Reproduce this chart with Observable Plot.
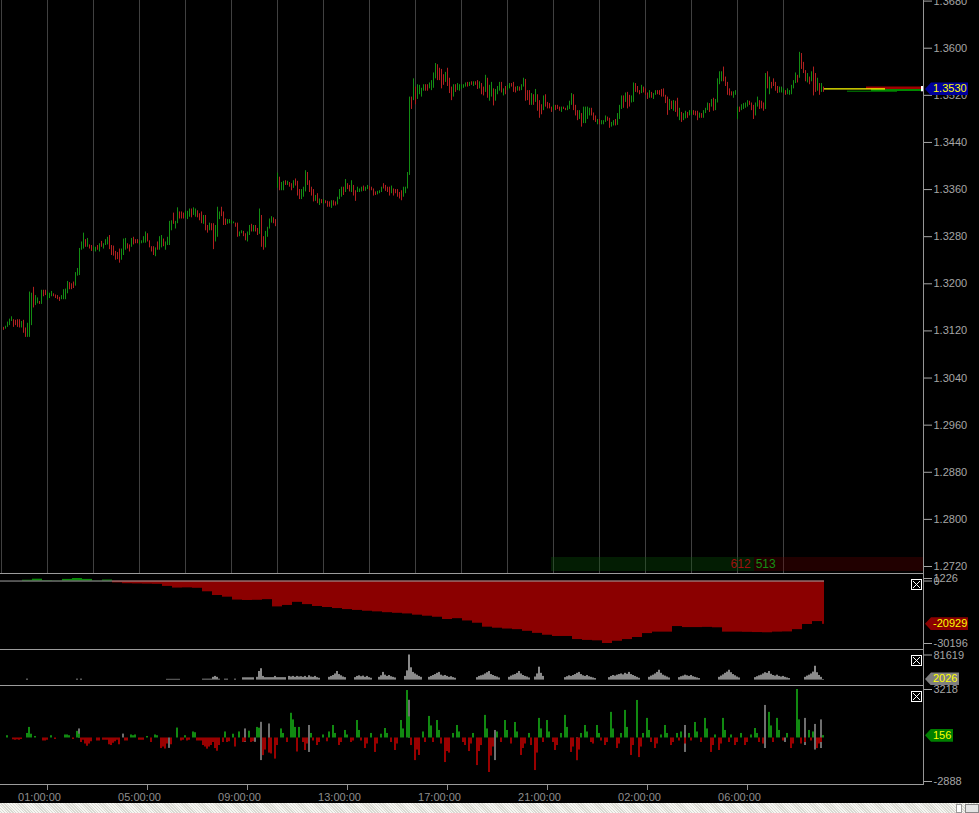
<!DOCTYPE html>
<html><head><meta charset="utf-8">
<script src="https://cdn.jsdelivr.net/npm/d3@7"></script>
<script src="https://cdn.jsdelivr.net/npm/@observablehq/plot@0.6"></script>
<style>
html,body{margin:0;padding:0;background:#000;overflow:hidden;}
#chart{position:relative;width:979px;height:813px;background:#000;font-family:"Liberation Sans",Arial,sans-serif;overflow:hidden;}
.pw{position:absolute;left:0;width:979px;}
.pw.ov svg{overflow:visible;}
.hl{position:absolute;height:1px;background:#9c9c9c;}
.tag{position:absolute;left:925px;height:13px;font:11px "Liberation Sans",Arial,sans-serif;line-height:13px;color:#ffff00;padding-left:8px;box-sizing:border-box;clip-path:polygon(0 50%,6px 0,100% 0,100% 100%,6px 100%);z-index:5;}
.cb{position:absolute;left:911px;width:11px;height:11px;z-index:5;}
</style></head><body><div id="chart"></div><script>
// ---------- price bars (one per bar index) ----------
const highs = [
1.3126,1.3128,1.3135,1.3140,1.3144,1.3139,1.3138,1.3139,1.3139,1.3136,
1.3138,1.3125,1.3133,1.3186,1.3184,1.3194,1.3180,1.3176,1.3170,1.3189,
1.3189,1.3189,1.3186,1.3184,1.3187,1.3183,1.3181,1.3180,1.3177,1.3180,
1.3190,1.3191,1.3204,1.3202,1.3200,1.3203,1.3219,1.3226,1.3260,1.3271,
1.3286,1.3275,1.3277,1.3266,1.3265,1.3263,1.3262,1.3265,1.3268,1.3272,
1.3268,1.3275,1.3279,1.3282,1.3265,1.3264,1.3255,1.3253,1.3259,1.3259,
1.3276,1.3277,1.3268,1.3266,1.3277,1.3279,1.3275,1.3275,1.3273,1.3273,
1.3280,1.3288,1.3285,1.3273,1.3263,1.3263,1.3261,1.3271,1.3280,1.3282,
1.3276,1.3271,1.3279,1.3306,1.3307,1.3320,1.3306,1.3329,1.3322,1.3322,
1.3320,1.3323,1.3323,1.3327,1.3327,1.3329,1.3327,1.3324,1.3319,1.3322,
1.3316,1.3316,1.3299,1.3303,1.3302,1.3302,1.3299,1.3330,1.3322,1.3330,
1.3322,1.3310,1.3309,1.3309,1.3307,1.3305,1.3303,1.3303,1.3288,1.3290,
1.3289,1.3285,1.3288,1.3299,1.3301,1.3299,1.3299,1.3294,1.3327,1.3316,
1.3280,1.3289,1.3296,1.3310,1.3314,1.3312,1.3309,1.3388,1.3381,1.3372,
1.3374,1.3375,1.3374,1.3372,1.3370,1.3375,1.3378,1.3374,1.3360,1.3360,
1.3364,1.3392,1.3389,1.3375,1.3364,1.3360,1.3350,1.3353,1.3344,1.3343,
1.3343,1.3341,1.3340,1.3339,1.3341,1.3341,1.3339,1.3347,1.3360,1.3364,
1.3364,1.3377,1.3370,1.3367,1.3375,1.3367,1.3358,1.3364,1.3361,1.3364,
1.3366,1.3364,1.3367,1.3365,1.3364,1.3361,1.3356,1.3357,1.3358,1.3364,
1.3370,1.3367,1.3364,1.3364,1.3366,1.3361,1.3360,1.3360,1.3355,1.3358,
1.3364,1.3364,1.3389,1.3517,1.3517,1.3548,1.3534,1.3538,1.3537,1.3532,
1.3538,1.3538,1.3538,1.3541,1.3545,1.3558,1.3574,1.3572,1.3566,1.3564,
1.3555,1.3559,1.3566,1.3549,1.3534,1.3538,1.3538,1.3540,1.3538,1.3538,
1.3538,1.3541,1.3542,1.3542,1.3543,1.3543,1.3543,1.3545,1.3543,1.3540,
1.3534,1.3554,1.3549,1.3537,1.3542,1.3531,1.3530,1.3535,1.3542,1.3542,
1.3531,1.3535,1.3537,1.3540,1.3540,1.3542,1.3534,1.3535,1.3534,1.3538,
1.3549,1.3547,1.3528,1.3528,1.3523,1.3521,1.3530,1.3521,1.3511,1.3504,
1.3519,1.3521,1.3508,1.3506,1.3500,1.3503,1.3503,1.3503,1.3500,1.3500,
1.3500,1.3498,1.3502,1.3510,1.3523,1.3521,1.3503,1.3494,1.3494,1.3489,
1.3500,1.3500,1.3500,1.3498,1.3498,1.3490,1.3485,1.3479,1.3479,1.3477,
1.3477,1.3485,1.3483,1.3481,1.3474,1.3477,1.3479,1.3489,1.3503,1.3519,
1.3519,1.3524,1.3525,1.3520,1.3519,1.3541,1.3540,1.3535,1.3528,1.3537,
1.3534,1.3531,1.3524,1.3528,1.3525,1.3523,1.3528,1.3528,1.3528,1.3530,
1.3531,1.3520,1.3517,1.3513,1.3510,1.3511,1.3510,1.3515,1.3498,1.3491,
1.3489,1.3493,1.3491,1.3494,1.3494,1.3494,1.3493,1.3493,1.3490,1.3489,
1.3494,1.3498,1.3507,1.3506,1.3513,1.3515,1.3513,1.3548,1.3560,1.3560,
1.3568,1.3551,1.3542,1.3531,1.3526,1.3526,1.3528,1.3500,1.3500,1.3504,
1.3506,1.3507,1.3511,1.3510,1.3507,1.3503,1.3507,1.3517,1.3511,1.3510,
1.3507,1.3557,1.3560,1.3551,1.3542,1.3548,1.3542,1.3535,1.3534,1.3534,
1.3531,1.3528,1.3531,1.3528,1.3537,1.3545,1.3558,1.3554,1.3593,1.3591,
1.3576,1.3562,1.3557,1.3551,1.3560,1.3568,1.3557,1.3549,1.3540,1.3540,1.3534
];
const lows = [
1.3121,1.3123,1.3126,1.3129,1.3136,1.3126,1.3129,1.3126,1.3125,1.3125,
1.3116,1.3109,1.3109,1.3109,1.3129,1.3159,1.3163,1.3166,1.3165,1.3165,
1.3178,1.3180,1.3172,1.3175,1.3178,1.3178,1.3175,1.3173,1.3170,1.3173,
1.3173,1.3173,1.3183,1.3190,1.3190,1.3192,1.3196,1.3213,1.3214,1.3257,
1.3259,1.3262,1.3262,1.3259,1.3255,1.3255,1.3254,1.3257,1.3254,1.3262,
1.3259,1.3265,1.3266,1.3258,1.3248,1.3247,1.3240,1.3241,1.3235,1.3240,
1.3248,1.3257,1.3259,1.3254,1.3262,1.3266,1.3268,1.3268,1.3266,1.3268,
1.3269,1.3269,1.3271,1.3261,1.3254,1.3248,1.3246,1.3257,1.3257,1.3261,
1.3263,1.3257,1.3265,1.3265,1.3290,1.3301,1.3293,1.3302,1.3310,1.3310,
1.3310,1.3311,1.3309,1.3313,1.3312,1.3316,1.3313,1.3312,1.3307,1.3302,
1.3301,1.3290,1.3286,1.3290,1.3290,1.3258,1.3271,1.3279,1.3309,1.3314,
1.3299,1.3299,1.3301,1.3302,1.3301,1.3302,1.3296,1.3279,1.3280,1.3285,
1.3280,1.3273,1.3271,1.3282,1.3288,1.3288,1.3288,1.3282,1.3284,1.3262,
1.3257,1.3261,1.3279,1.3293,1.3303,1.3302,1.3297,1.3362,1.3358,1.3358,
1.3358,1.3367,1.3367,1.3364,1.3358,1.3362,1.3366,1.3349,1.3343,1.3343,
1.3347,1.3356,1.3367,1.3355,1.3349,1.3339,1.3340,1.3336,1.3333,1.3336,
1.3335,1.3336,1.3330,1.3330,1.3328,1.3332,1.3332,1.3334,1.3343,1.3347,
1.3350,1.3355,1.3360,1.3356,1.3355,1.3349,1.3340,1.3355,1.3355,1.3356,
1.3357,1.3357,1.3360,1.3358,1.3358,1.3349,1.3350,1.3351,1.3353,1.3355,
1.3361,1.3357,1.3355,1.3349,1.3353,1.3349,1.3353,1.3347,1.3344,1.3341,
1.3347,1.3353,1.3361,1.3384,1.3496,1.3511,1.3504,1.3513,1.3521,1.3517,
1.3527,1.3527,1.3527,1.3531,1.3528,1.3532,1.3548,1.3545,1.3545,1.3531,
1.3537,1.3542,1.3535,1.3523,1.3511,1.3517,1.3525,1.3528,1.3527,1.3530,
1.3532,1.3534,1.3534,1.3535,1.3537,1.3535,1.3537,1.3530,1.3531,1.3521,
1.3519,1.3525,1.3515,1.3510,1.3517,1.3502,1.3510,1.3521,1.3527,1.3524,
1.3519,1.3521,1.3528,1.3531,1.3534,1.3525,1.3524,1.3527,1.3527,1.3528,
1.3534,1.3510,1.3511,1.3503,1.3503,1.3503,1.3508,1.3493,1.3481,1.3487,
1.3494,1.3500,1.3497,1.3497,1.3491,1.3494,1.3494,1.3496,1.3493,1.3491,
1.3496,1.3494,1.3494,1.3496,1.3503,1.3494,1.3485,1.3477,1.3479,1.3466,
1.3472,1.3472,1.3479,1.3485,1.3485,1.3477,1.3474,1.3470,1.3470,1.3470,
1.3470,1.3474,1.3476,1.3464,1.3466,1.3468,1.3468,1.3469,1.3479,1.3496,
1.3498,1.3508,1.3497,1.3500,1.3507,1.3508,1.3525,1.3524,1.3521,1.3523,
1.3524,1.3520,1.3513,1.3515,1.3515,1.3513,1.3520,1.3521,1.3520,1.3517,
1.3517,1.3506,1.3486,1.3494,1.3496,1.3493,1.3491,1.3483,1.3477,1.3474,
1.3477,1.3480,1.3481,1.3485,1.3486,1.3486,1.3485,1.3477,1.3481,1.3481,
1.3481,1.3489,1.3494,1.3491,1.3500,1.3493,1.3494,1.3507,1.3538,1.3543,
1.3543,1.3535,1.3520,1.3519,1.3519,1.3515,1.3520,1.3479,1.3491,1.3494,
1.3496,1.3498,1.3500,1.3503,1.3494,1.3479,1.3485,1.3500,1.3496,1.3497,
1.3493,1.3496,1.3531,1.3521,1.3531,1.3535,1.3527,1.3523,1.3524,1.3524,
1.3523,1.3520,1.3521,1.3520,1.3521,1.3531,1.3540,1.3541,1.3549,1.3564,
1.3557,1.3543,1.3541,1.3538,1.3543,1.3519,1.3525,1.3527,1.3520,1.3525,1.3525
];
// +1 = up bar (green), -1 = down bar (red)
const barDir = [
-1,1,1,1,1,-1,-1,-1,-1,1, -1,-1,1,1,1,-1,1,1,-1,1, -1,-1,1,1,1,-1,-1,-1,-1,1, 1,1,1,-1,-1,-1,1,1,1,1,
1,-1,1,-1,-1,1,1,-1,1,-1, 1,1,1,-1,-1,-1,-1,-1,-1,1, 1,1,-1,-1,1,-1,-1,-1,1,1, 1,1,-1,-1,-1,-1,1,-1,1,1,
-1,1,1,1,1,-1,1,1,-1,-1, -1,1,1,1,-1,1,1,-1,-1,-1, 1,-1,-1,1,-1,-1,1,1,1,-1, -1,-1,1,1,1,1,-1,-1,1,1,
-1,-1,1,1,-1,1,-1,-1,1,-1, -1,1,1,1,1,-1,-1,1,-1,1, 1,-1,1,-1,-1,1,-1,-1,-1,1, 1,1,-1,-1,-1,-1,1,-1,1,-1,
1,-1,-1,-1,1,-1,-1,1,1,1, -1,1,-1,-1,1,-1,-1,1,1,1, -1,1,1,-1,-1,-1,-1,1,1,1, -1,-1,-1,-1,1,-1,-1,-1,-1,-1,
1,1,1,1,-1,1,-1,1,1,1, 1,-1,-1,1,1,1,1,-1,-1,-1, -1,1,-1,-1,-1,1,-1,1,1,1, 1,1,-1,1,-1,1,-1,-1,1,-1,
-1,1,-1,1,1,-1,1,1,1,-1, 1,-1,1,1,-1,-1,-1,1,-1,1, 1,-1,-1,-1,1,-1,1,-1,-1,-1, 1,-1,-1,-1,-1,1,-1,-1,-1,1,
-1,-1,1,1,1,-1,-1,-1,1,-1, 1,1,1,1,-1,-1,-1,1,-1,1, 1,1,-1,-1,1,1,-1,1,1,1, -1,1,-1,-1,1,1,-1,-1,-1,1,
-1,-1,-1,1,-1,1,1,-1,-1,-1, -1,-1,-1,1,-1,1,-1,-1,1,-1, 1,1,-1,1,1,-1,-1,-1,1,-1, 1,1,1,-1,1,-1,1,1,1,1,
-1,-1,-1,-1,-1,1,1,1,-1,1, 1,1,1,-1,-1,-1,1,1,-1,-1, -1,1,-1,1,-1,-1,-1,-1,1,1, 1,-1,1,1,1,1,1,-1,1,-1,
-1,-1,1,-1,1,-1,-1,1,-1,1,-1
];
const priceTicks = [1.2720,1.2800,1.2880,1.2960,1.3040,1.3120,1.3200,1.3280,1.3360,1.3440,1.3520,1.3600,1.3680];
const gridIdx = [-1,22,45,68,91,114,137,160,183,206,229,252,275,298,321,344,367,390];
const xTickIdx = [22,72,122,172,222,272,322,372];
const xTickLabels = ["01:00:00","05:00:00","09:00:00","13:00:00","17:00:00","21:00:00","02:00:00","06:00:00"];
const lastPrice = 1.3530;
// working order levels: price, from bar, to bar
const orderPrices = [1.3533, 1.3529, 1.3527, 1.3531];
const orderFrom = [431.5, 434, 422, 410.5];
const orderTo = [459, 459, 447, 441];
// bid / ask counter strip
const counterSell = 612, counterBuy = 513;

// ---------- cumulative delta, one value per 5 bars ----------
const cumDelta = [0,0,400,900,200,100,800,1226,800,100,
500,-900,-1300,-1400,-1500,-1600,-2600,-3400,-3300,-3500,
-5200,-7000,-7800,-9200,-9400,-9300,-9000,-12500,-11800,-10300,
-11400,-12300,-12800,-13300,-13800,-14200,-14600,-14900,-15300,-15600,
-15900,-16500,-17000,-17500,-18600,-18200,-19300,-20400,-22300,-22800,
-23200,-23500,-24300,-25300,-26200,-26800,-26800,-28300,-28700,-28900,
-30196,-29100,-28300,-27300,-25400,-24700,-24700,-22000,-22500,-22500,
-22400,-22600,-24700,-24700,-24800,-24900,-25000,-24700,-24600,-23500,
-21000,-19600,-20929];
const cumTicks = [1226, 0, -30196];
const lastCum = -20929;

// ---------- volume (bar index, value) ----------
const volume = [[12,3000],[37,3000],[39,3000],[82,2500],[83,2500],[84,2500],[85,2500],[86,2500],[87,2500],[88,2500],
[100,3000],[101,3000],[102,3000],[103,3000],[104,3000],[105,9000],[106,12000],[107,9000],[108,3000],[111,3000],[112,3000],[116,3000],
[120,7500],[121,7500],[122,7500],[123,7500],[124,7500],[125,7500],[127,9000],[128,28000],[129,37000],[130,12000],
[131,8000],[132,8000],[133,8000],[134,8000],[135,8000],[136,12000],[137,8000],[138,8000],[139,8000],[140,8000],[141,8000],
[143,12000],[144,10000],[145,12000],[146,9000],[147,12000],[148,10000],
[149,11000],[150,9000],[151,12000],[152,8000],[153,14000],[154,10000],[155,9000],[156,12000],[157,8000],[158,6000],
[163,9000],[164,12000],[165,15000],[166,20000],[167,28000],[168,18000],[169,14000],[170,10000],[171,8000],
[176,8000],[177,12000],[178,14000],[179,11000],[180,13000],[181,9000],[182,12000],[183,8000],[184,6000],
[188,9000],[189,14000],[190,25000],[191,16000],[192,12000],[193,15000],[194,11000],[195,9000],[196,7000],
[201,12000],[202,30000],[203,81619],[204,40000],[205,25000],[206,20000],[207,16000],[208,12000],[209,9000],
[213,9000],[214,12000],[215,15000],[216,18000],[217,22000],[218,25000],[219,16000],[220,13000],[221,15000],[222,12000],[223,9000],[224,11000],[225,8000],[226,6000],
[237,8000],[238,12000],[239,14000],[240,16000],[241,20000],[242,24000],[243,28000],[244,18000],[245,15000],[246,12000],[247,10000],[248,7000],
[253,9000],[254,13000],[255,16000],[256,18000],[257,22000],[258,28000],[259,20000],[260,15000],[261,12000],[262,10000],[263,7000],
[266,10000],[267,20000],[268,42000],[269,22000],[270,12000],
[281,8000],[282,11000],[283,14000],[284,12000],[285,15000],[286,18000],[287,22000],[288,25000],[289,18000],[290,14000],[291,12000],[292,15000],[293,11000],[294,9000],[295,7000],[296,5000],
[303,8000],[304,12000],[305,15000],[306,13000],[307,16000],[308,18000],[309,20000],[310,17000],[311,22000],[312,19000],[313,25000],[314,18000],[315,15000],[316,12000],[317,9000],[318,6000],
[323,9000],[324,13000],[325,16000],[326,20000],[327,25000],[328,32000],[329,22000],[330,16000],[331,13000],[332,10000],[333,7000],
[338,8000],[339,11000],[340,13000],[341,16000],[342,14000],[343,12000],[344,15000],[345,11000],[346,9000],[347,7000],[348,5000],
[358,9000],[359,13000],[360,17000],[361,22000],[362,26000],[363,32000],[364,24000],[365,18000],[366,14000],[367,10000],[368,7000],
[376,8000],[377,11000],[378,14000],[379,16000],[380,20000],[381,24000],[382,22000],[383,28000],[384,19000],[385,15000],[386,13000],[387,16000],[388,12000],[389,10000],[390,12000],[391,9000],[392,7000],[393,5000],
[401,9000],[402,13000],[403,16000],[404,20000],[405,26000],[406,45000],[407,24000],[408,15000],[409,9000],[410,2026]];
const volTicks = [81619];
const lastVol = 2026;

// ---------- delta histogram (bar index, value) ----------
const deltaBars = [[2,150],[5,-120],[6,-150],[7,-120],[8,-150],[9,-100],[12,300],[13,700],[14,250],[16,100],[20,-200],[21,-200],[22,-150],[24,150],[26,-100],
[31,200],[32,200],[33,150],[35,-100],[37,440],[38,250],[39,-300],[40,-150],[41,-400],[42,-550],[43,-400],[44,-250],[47,-200],[48,-200],
[50,-150],[51,-150],[52,-150],[53,-450],[54,-500],[55,-350],[56,-250],[57,-150],[58,-450],[61,-200],[62,-200],[64,200],[65,150],[66,200],
[68,-150],[69,-150],[70,-150],[72,100],[74,-300],[76,200],[77,150],[79,-700],[80,-600],[81,-730],[82,-400],[84,-450],[87,660],[89,-200],[90,-150],
[91,150],[92,-200],[93,-150],[95,400],[96,350],[97,-200],[98,-200],[99,-200],[100,-500],[101,-600],[102,-740],[103,-600],[104,-500],
[105,-300],[106,-700],[107,-880],[108,-500],[110,-300],[111,400],[112,-300],[113,-250],[115,250],[116,-600],[118,400],[120,-300],[121,-250],
[123,450],[124,-300],[125,-250],[127,700],[128,650],[130,-1170],[131,-800],[133,-1000],[134,-1060],[136,-1400],[137,-500],[139,600],[140,300],
[142,-300],[144,1640],[145,1200],[146,700],[147,-930],[148,700],
[150,-300],[151,-830],[152,-400],[154,300],[155,-200],[157,-500],[158,-300],[160,200],[162,-250],[163,400],[165,830],[166,300],[168,-500],[169,-300],
[171,500],[172,200],[174,-300],[175,-200],[177,1160],[178,500],[179,-200],[181,-700],[182,-400],[184,300],[186,-960],[187,-400],[189,250],[191,630],
[192,300],[194,-300],[196,-830],[197,-400],[199,1160],[200,600],[202,3150],[203,1400],[204,-500],[206,-1500],[207,-800],[208,-1160],[210,400],
[211,-300],[213,1430],[214,800],[215,-300],[217,1160],[218,500],[219,-400],[221,-1630],[222,-900],[223,-1000],[225,300],[227,830],[228,400],
[230,-300],[231,-500],[233,-900],[234,-400],[235,300],[237,-1830],[238,-900],[239,-500],[241,1500],[242,600],[243,-2290],[244,-1200],[245,-600],
[247,400],[249,-300],[251,1160],[252,500],[254,-400],[256,1030],[257,400],[259,-1160],[260,-700],[261,-400],[263,300],[264,-500],[266,-2160],
[267,-1000],[268,1300],[269,600],[270,-300],[272,1160],[273,400],[275,-300],[276,-830],[277,-500],[279,300],[281,1500],[282,700],[284,-960],
[285,-600],[287,-1500],[288,-800],[289,300],[291,830],[292,400],[294,-300],[295,-400],[297,830],[298,300],[299,-200],[301,-500],[302,-300],
[304,1700],[305,600],[307,-700],[308,-400],[309,300],[311,1830],[312,700],[314,-1160],[315,-500],[317,2490],[318,-1300],[319,-600],[320,300],
[322,1300],[323,500],[324,-300],[326,-700],[327,-400],[329,200],[331,830],[332,300],[334,-500],[335,-300],[337,300],[338,-200],[339,400],
[341,-400],[343,300],[344,-200],[346,1030],[347,400],[349,-300],[351,1300],[352,600],[354,-960],[355,-500],[356,200],[358,-830],[359,-400],
[360,1300],[361,500],[363,-300],[364,200],[366,-500],[367,-300],[369,300],[371,-500],[372,-300],[374,200],[376,630],[377,300],[378,-300],
[380,-400],[383,1700],[384,800],[385,-300],[387,1300],[388,500],[390,-200],[392,300],[394,-700],[395,-400],[397,3218],[398,1200],[399,-400],
[401,-300],[403,500],[404,-200],[405,400],[407,-700],[408,-400],[409,-300],[410,156]];
// gray range bars (bar index, low, high)
const grayBars = [[38,0,600],[60,0,260],[83,-690,0],[121,-290,600],[126,-290,0],[129,-1500,1040],[133,-620,930],[153,-960,830],[203,0,2500],
[246,-1500,500],[287,-1500,0],[341,-960,830],[381,-700,2160],[391,-300,0],[401,-500,1300],[406,-800,900],[409,-700,1200]];
const deltaTicks = [3218, -2888];
const lastDelta = 156;

// ---------- drawing ----------
const W = 979, AX = 923;
const xOpt = {domain: [-1.5, 460], range: [0, AX], axis: null};
const FONT = '"Liberation Sans", Arial, sans-serif';
const baseStyle = {background: "transparent", color: "#a6a6a6", fontSize: "11px", fontFamily: FONT};
const GREEN = "#138c13", RED = "#b02020";
const root = document.getElementById("chart");
function put(el, top, ov) { const d = document.createElement("div"); d.className = "pw" + (ov ? " ov" : ""); d.style.top = top + "px"; d.appendChild(el); root.appendChild(d); }
const yAxis = (ticks, fmt) => Plot.axisY(ticks, {anchor: "right", tickSize: 8, tickPadding: 2, label: null, tickFormat: fmt});

const bars = highs.map((h, i) => ({i, high: h, low: lows[i], up: barDir[i] > 0}));
const orderColors = ["#a00000", "#008a00", "#008a00", "#ffff00"];
const orderWidths = [2.5, 2, 1, 1.3];
const orders = orderPrices.map((p, j) => ({price: p, from: orderFrom[j], to: orderTo[j], c: orderColors[j], w: orderWidths[j]}));

const main = Plot.plot({
  width: W, height: 573, marginLeft: 0, marginRight: W - AX, marginTop: 0, marginBottom: 0,
  style: baseStyle, x: xOpt,
  y: {domain: [1.272, 1.368], range: [566, 0.6]},
  marks: [
    Plot.ruleX(gridIdx, {x: d => d, stroke: "#404040"}),
    Plot.ruleX(bars, {x: "i", y1: "low", y2: "high", stroke: d => d.up ? GREEN : RED}),
    ...orders.map(o => Plot.ruleY([o], {y: "price", x1: "from", x2: "to", stroke: o.c, strokeWidth: o.w})),
    Plot.rect([{p: lastPrice}], {x1: 459, x2: 460, y1: d => d.p - 0.0004, y2: d => d.p + 0.0005, fill: "#ffffff"}),
    yAxis(priceTicks, d3.format(".4f"))
  ]
});
put(main, 0, false);

const cumBlocks = cumDelta.map((v, j) => ({x1: 5 * j - 0.5, x2: Math.min(5 * j + 4.5, 410.5), v}));
const p2 = Plot.plot({
  width: W, height: 75, marginLeft: 0, marginRight: W - AX, marginTop: 0, marginBottom: 0,
  style: baseStyle, x: xOpt,
  y: {domain: [-30196, 1226], range: [69, 4]},
  marks: [
    Plot.rect(cumBlocks, {x1: "x1", x2: "x2", y1: 0, y2: "v", fill: d => d.v >= 0 ? "#0a8a0a" : "#8b0000"}),
    Plot.ruleY([0], {x1: -1.5, x2: 410.5, stroke: "#a0a0a0"}),
    yAxis(cumTicks, d => String(d))
  ]
});
put(p2, 574, true);

const p3 = Plot.plot({
  width: W, height: 35, marginLeft: 0, marginRight: W - AX, marginTop: 0, marginBottom: 0,
  style: baseStyle, x: xOpt,
  y: {domain: [0, 81619], range: [29.6, 4.5]},
  marks: [
    Plot.rect(volume, {x1: d => d[0] - 0.5, x2: d => d[0] + 0.5, y1: 0, y2: d => d[1], fill: "#8a8a8a"}),
    yAxis(volTicks, d => String(d))
  ]
});
put(p3, 650, true);

const p4 = Plot.plot({
  width: W, height: 117, marginLeft: 0, marginRight: W - AX, marginTop: 0, marginBottom: 19,
  style: baseStyle, x: xOpt,
  y: {domain: [-2888, 3218], range: [95, 3]},
  marks: [
    Plot.rect(grayBars, {x1: d => d[0] - 0.5, x2: d => d[0] + 0.5, y1: d => d[1], y2: d => d[2], fill: "#6e6e6e"}),
    Plot.rect(deltaBars, {x1: d => d[0] - 0.5, x2: d => d[0] + 0.5, y1: 0, y2: d => d[1], fill: d => d[1] >= 0 ? "#118a11" : "#9a0000"}),
    yAxis(deltaTicks, d => String(d)),
    Plot.axisX(xTickIdx, {anchor: "bottom", tickSize: 6, tickPadding: 3, label: null, color: "#8e8e8e", textAnchor: "middle", dx: -8,
      tickFormat: d => xTickLabels[xTickIdx.indexOf(d)]})
  ]
});
put(p4, 686, true);
// re-align x tick marks (dx shifts only the labels' intent; keep ticks on the bar positions)
p4.querySelectorAll('g[aria-label="x-axis tick"] path, g[aria-label="x-axis tick"] line').forEach(el => {
  const g = el.closest('g[aria-label="x-axis tick"]'); if (g && g.getAttribute("transform")) g.setAttribute("transform", "translate(0.5,0)");
});

// frame lines
function hline(top, left, width) { const d = document.createElement("div"); d.className = "hl"; d.style.top = top + "px"; d.style.left = left + "px"; d.style.width = width + "px"; root.appendChild(d); }
[573, 649, 685, 784].forEach(t => hline(t, 0, AX));
const vl = document.createElement("div"); vl.style.cssText = "position:absolute;left:923px;top:0;width:1px;height:785px;background:#959595;"; root.appendChild(vl);

// value tags
function tag(yAbs, text, bg, w) {
  const d = document.createElement("div"); d.className = "tag";
  d.style.top = (yAbs - 6.5) + "px"; d.style.width = w + "px"; d.style.background = bg; d.textContent = text;
  root.appendChild(d);
}
tag(main.scale("y").apply(lastPrice), d3.format(".4f")(lastPrice), "#00009c", 43);
tag(574 + p2.scale("y").apply(lastCum), String(lastCum), "#8b0000", 43);
tag(650 + p3.scale("y").apply(lastVol), String(lastVol), "#7f7f7f", 34);
tag(686 + p4.scale("y").apply(lastDelta), String(lastDelta), "#007f00", 28);

// close boxes
[576, 652, 688].forEach(t => {
  const d = document.createElement("div"); d.className = "cb"; d.style.top = t + "px";
  d.innerHTML = '<svg width="11" height="11"><rect x="0.5" y="0.5" width="10" height="10" fill="#000" stroke="#fff"/><path d="M2 2L9 9M9 2L2 9" stroke="#fff" stroke-width="1"/></svg>';
  root.appendChild(d);
});

// counter strip
const strip = document.createElement("div");
strip.style.cssText = "position:absolute;left:551px;top:557px;width:372px;height:14px;display:flex;font:12px " + FONT + ";line-height:14px;";
strip.innerHTML = '<div style="flex:' + counterSell + ';background:rgba(10,90,10,0.32);text-align:right;padding-right:3px;color:#a01010;">' + counterSell + '</div>' +
  '<div style="flex:' + counterBuy + ';background:rgba(110,0,0,0.3);padding-left:2px;color:#149014;">' + counterBuy + '</div>';
root.appendChild(strip);

// bottom scrollbar strip
const sb = document.createElement("div");
sb.style.cssText = "position:absolute;left:0;top:803px;width:979px;height:10px;background:repeating-linear-gradient(45deg,#f6f6f2 0 1px,#d9d9d2 1px 2px);";
sb.innerHTML = '<div style="position:absolute;left:956px;top:1px;width:6px;height:9px;background:#fff;border:1px solid #999;box-sizing:border-box"></div>' +
  '<div style="position:absolute;left:965px;top:1px;width:14px;height:9px;background:#e4e4e4;border:1px solid #888;box-sizing:border-box"></div>';
root.appendChild(sb);
</script></body></html>
